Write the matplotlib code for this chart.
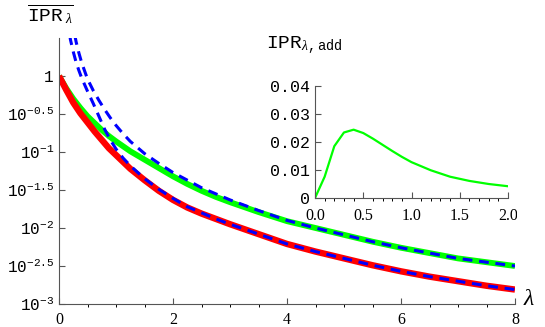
import numpy as np
import matplotlib
matplotlib.use('Agg')
import matplotlib.pyplot as plt
from matplotlib.transforms import Bbox, TransformedBbox

plt.rcParams['mathtext.fontset'] = 'custom'
plt.rcParams['mathtext.rm'] = 'Liberation Mono'
plt.rcParams['mathtext.tt'] = 'Liberation Mono'
plt.rcParams['mathtext.it'] = 'Liberation Serif:italic'

# main panel, values given as log10(IPR)
lam = [0, 0.125, 0.25, 0.375, 0.5, 0.625, 0.75, 0.875, 1.0, 1.25, 1.5, 1.75,
       2.0, 2.25, 2.5, 2.75, 3.0, 3.5, 4.0, 4.5, 5.0, 5.5, 6.0, 6.5, 7.0,
       7.5, 8.0]
red_log = [0, -0.18, -0.35, -0.49, -0.61, -0.73, -0.84, -0.95, -1.04, -1.22,
           -1.37, -1.51, -1.63, -1.73, -1.81, -1.88, -1.95, -2.08, -2.21,
           -2.31, -2.40, -2.49, -2.57, -2.64, -2.70, -2.76, -2.81]
green_log = [0, -0.16, -0.30, -0.42, -0.53, -0.62, -0.71, -0.79, -0.86, -0.99,
             -1.10, -1.21, -1.32, -1.42, -1.51, -1.59, -1.66, -1.79, -1.91,
             -2.00, -2.09, -2.18, -2.26, -2.33, -2.40, -2.45, -2.50]

lam_b1 = [0.15, 0.2, 0.25, 0.3, 0.35, 0.4, 0.5, 0.6, 0.7, 0.8, 0.9, 1.0,
          1.125, 1.25, 1.5, 1.75, 2.0, 2.25, 2.5, 2.75, 3.0, 3.5, 4.0, 4.5,
          5.0, 5.5, 6.0, 6.5, 7.0, 7.5, 8.0]
blue1_log = [0.75, 0.48, 0.32, 0.18, 0.07, -0.03, -0.20, -0.36, -0.53, -0.70,
             -0.84, -0.96, -1.08, -1.18, -1.35, -1.49, -1.61, -1.72, -1.80,
             -1.88, -1.95, -2.08, -2.21, -2.31, -2.40, -2.49, -2.57, -2.64,
             -2.70, -2.76, -2.81]
lam_b2 = [0.22, 0.25, 0.3, 0.35, 0.4, 0.5, 0.6, 0.7, 0.8, 0.9, 1.0, 1.125,
          1.25, 1.5, 1.75, 2.0, 2.25, 2.5, 2.75, 3.0, 3.5, 4.0, 4.5, 5.0,
          5.5, 6.0, 6.5, 7.0, 7.5, 8.0]
blue2_log = [0.75, 0.64, 0.45, 0.30, 0.17, -0.04, -0.19, -0.32, -0.44, -0.55,
             -0.65, -0.76, -0.86, -1.02, -1.15, -1.27, -1.37, -1.47, -1.55,
             -1.63, -1.77, -1.90, -2.00, -2.09, -2.18, -2.26, -2.33, -2.40,
             -2.45, -2.50]

ytick_exp = [0, -0.5, -1, -1.5, -2, -2.5, -3]
ytick_labels = ['$1$', '$10^{-0.5}$', '$10^{-1}$', '$10^{-1.5}$',
                '$10^{-2}$', '$10^{-2.5}$', '$10^{-3}$']

# inset
lam_in = [0, 0.1, 0.2, 0.3, 0.4, 0.5, 0.6, 0.7, 0.8, 0.9, 1.0, 1.2, 1.4,
          1.6, 1.8, 2.0]
ipr_add = [0, 0.0076, 0.0185, 0.0234, 0.0244, 0.0232, 0.0212, 0.0190, 0.0168,
           0.0147, 0.0128, 0.0099, 0.0076, 0.0061, 0.0050, 0.0042]

axcol = '#555555'
fig = plt.figure(figsize=(5.45, 3.27), dpi=100)
ax = fig.add_axes([59/545, 1 - 304/327, 456/545, 266/327])

ax.plot(lam, 10**np.array(green_log), color='#00ff00', lw=4.2, solid_capstyle='butt')
ax.plot(lam, 10**np.array(red_log), color='#ff0000', lw=4.6, solid_capstyle='butt')
ax.plot(lam_b1, 10**np.array(blue1_log), color='#0000ff', lw=2.2,
        dashes=(3.2, 2.2), dash_capstyle='butt')
ax.plot(lam_b2, 10**np.array(blue2_log), color='#0000ff', lw=2.2,
        dashes=(3.2, 2.2), dash_capstyle='butt')

ax.set_yscale('log')
ax.set_xlim(0, 8)
ax.set_ylim(1e-3, 10**0.5)
ax.set_yticks([10**e for e in ytick_exp])
ax.set_yticklabels(ytick_labels, fontsize=11.5)
ax.yaxis.set_minor_locator(matplotlib.ticker.NullLocator())
ax.set_xticks([0, 2, 4, 6, 8])
ax.set_xticks(np.arange(0, 8.01, 0.5), minor=True)
ax.set_xticklabels(['0', '2', '4', '6', '8'], fontsize=11.5, fontfamily='Liberation Serif')
ax.tick_params(direction='in', colors=axcol, labelcolor='black', width=0.8)
ax.tick_params(which='major', length=4)
ax.tick_params(axis='x', pad=6)
ax.tick_params(which='minor', length=2.5, width=0.7)
for s in ['top', 'right']:
    ax.spines[s].set_visible(False)
for s in ['left', 'bottom']:
    ax.spines[s].set_color(axcol)
    ax.spines[s].set_linewidth(0.8)

fig.text(523/545, 1 - 298/327, r'$\lambda$', fontsize=17, va='center', ha='left')
fig.text(27/545, 1 - 3/327, r'$\overline{\mathrm{IPR}_{\ \lambda}}$', fontsize=14,
         va='top', ha='left')

ins = fig.add_axes([315/545, 1 - 198/327, 193/545, 112/327])
ins.plot(lam_in, ipr_add, color='#00ff00', lw=1.6)
ins.set_xlim(0, 2)
ins.set_ylim(0, 0.04)
ins.set_xticks([0, 0.5, 1.0, 1.5, 2.0])
ins.set_xticks(np.arange(0, 2.01, 0.1), minor=True)
ins.set_xticklabels(['0.0', '0.5', '1.0', '1.5', '2.0'], fontsize=11.5,
                    fontfamily='Liberation Serif')
ins.set_yticks([0, 0.01, 0.02, 0.03, 0.04])
ins.set_yticklabels(['0', '0.01', '0.02', '0.03', '0.04'], fontsize=12,
                    fontfamily='Liberation Mono')
ins.tick_params(direction='in', colors=axcol, labelcolor='black', width=0.8)
ins.tick_params(which='major', length=4)
ins.tick_params(axis='x', pad=7)
ins.tick_params(which='minor', length=2, width=0.7)
ins.patch.set_alpha(0)
for s in ['top', 'right']:
    ins.spines[s].set_visible(False)
for s in ['left', 'bottom']:
    ins.spines[s].set_color(axcol)
    ins.spines[s].set_linewidth(0.8)

clip = TransformedBbox(Bbox([[0, 0], [517/545, 1]]), fig.transFigure)
for t in ins.get_xticklabels():
    t.set_clip_box(clip)
    t.set_clip_on(True)

fig.text(266/545, 1 - 46/327, r'$\mathrm{IPR}_{\lambda\mathrm{,add}}$', fontsize=14,
         va='center', ha='left')

fig.savefig('out.png', dpi=100)
